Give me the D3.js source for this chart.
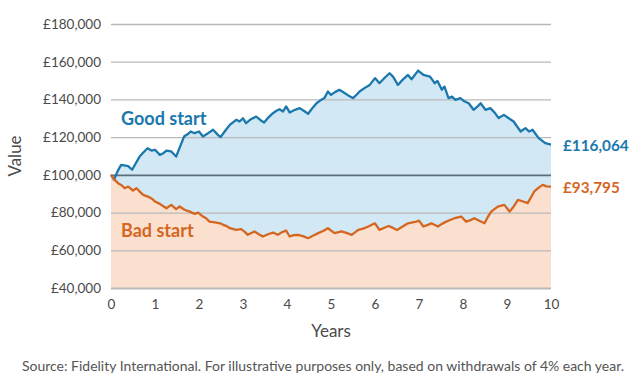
<!DOCTYPE html>
<html><head><meta charset="utf-8">
<script src="https://cdn.jsdelivr.net/npm/d3@7"></script>
<style>body{margin:0;background:#fff}svg{display:block}text{font-family:Lato, "Noto Sans", sans-serif}</style>
</head><body><svg id="c" width="634" height="388"></svg>
<script>
const goodYears = [0,0.07,0.15,0.23,0.30,0.39,0.48,0.56,0.65,0.74,0.83,0.92,1.00,1.11,1.19,1.26,1.37,1.48,1.57,1.66,1.74,1.81,1.90,2.00,2.09,2.20,2.32,2.43,2.49,2.60,2.70,2.78,2.85,2.92,3.00,3.07,3.18,3.30,3.40,3.48,3.58,3.68,3.76,3.83,3.91,3.98,4.06,4.18,4.29,4.38,4.48,4.58,4.67,4.76,4.85,4.93,5.00,5.10,5.19,5.30,5.40,5.50,5.58,5.65,5.76,5.88,6.00,6.10,6.22,6.33,6.41,6.52,6.63,6.75,6.83,6.98,7.10,7.25,7.36,7.42,7.52,7.58,7.67,7.75,7.83,7.94,8.03,8.13,8.24,8.32,8.40,8.51,8.62,8.72,8.81,8.93,9.04,9.15,9.31,9.42,9.50,9.58,9.72,9.87,10];
const goodValues = [100000,97500,102000,105300,105000,104600,102700,106000,109700,112000,114100,112900,113300,110600,111500,112900,112400,109700,115000,120300,121500,123000,122100,123000,120300,122000,123900,121200,120000,123500,126500,128000,129200,128300,130000,127400,129500,130900,129000,127800,130500,132700,134000,134800,133600,136300,133100,134500,135400,134000,132400,135500,138000,139500,140700,144200,142400,144000,145100,143500,142000,140700,142500,144200,146000,147700,151300,148600,151500,153900,152100,147700,150500,153000,150700,155300,153000,152100,148600,149800,145100,146800,140700,141500,139800,140700,139000,138000,134500,136000,138000,134500,135400,133000,130100,131800,130000,128300,123000,124800,123000,123900,119500,116800,116064];
const badYears = [0,0.08,0.16,0.24,0.31,0.39,0.50,0.58,0.66,0.73,0.84,0.92,1.00,1.11,1.18,1.26,1.37,1.48,1.56,1.67,1.79,1.90,1.98,2.09,2.16,2.24,2.36,2.48,2.55,2.63,2.70,2.85,2.96,3.04,3.11,3.26,3.36,3.45,3.57,3.68,3.79,3.88,3.98,4.06,4.15,4.25,4.36,4.48,4.60,4.71,4.82,4.93,5.08,5.24,5.35,5.47,5.62,5.73,5.85,6.00,6.10,6.20,6.31,6.40,6.50,6.62,6.75,6.94,7.00,7.10,7.20,7.28,7.43,7.52,7.62,7.72,7.81,7.96,8.07,8.17,8.26,8.38,8.49,8.56,8.64,8.79,8.94,9.06,9.16,9.25,9.35,9.47,9.62,9.72,9.81,9.90,10];
const badValues = [100000,97500,95600,94500,92900,93800,91700,92900,91000,89400,88500,87500,85900,84600,83500,82300,84100,81800,83200,81500,80500,79300,80000,77900,77000,75200,74800,74300,73500,72800,71700,70800,71200,69800,68200,70000,68500,67300,68500,69400,68200,69500,70500,67300,68000,68200,67500,66400,67800,69100,70200,71700,69100,70000,69200,68200,70800,71500,72600,74300,70800,71800,72900,72000,70800,72500,74300,75200,75700,72600,73500,74300,72600,74000,75200,76200,77000,77900,75200,76000,77000,75500,74300,77500,80500,83200,84100,80500,83500,86700,86000,85000,91200,93200,94700,93900,93795];
const yTicks = [40000,60000,80000,100000,120000,140000,160000,180000];
const xTicks = [0,1,2,3,4,5,6,7,8,9,10];
const seriesNames = ["Good start","Bad start"];
const endLabels = ["£116,064","£93,795"];
const xTitle = "Years", yTitle = "Value";
const source = "Source: Fidelity International. For illustrative purposes only, based on withdrawals of 4% each year.";

const svg = d3.select("#c");
const L=111, R=551, T=24, B=288;
const x = d3.scaleLinear().domain([0,10]).range([L,R]);
const y = d3.scaleLinear().domain([40000,180000]).range([B,T]);
const BLUE="#1b78ad", ORANGE="#d4661f";

const good = goodYears.map((t,i)=>[t,goodValues[i]]);
const bad = badYears.map((t,i)=>[t,badValues[i]]);
const area = d3.area().x(d=>x(d[0])).y0(y(40000)).y1(d=>y(d[1]));
const line = d3.line().x(d=>x(d[0])).y(d=>y(d[1]));

svg.append("path").attr("d",area(good)).attr("fill","#d2e8f5");
svg.append("path").attr("d",area(bad)).attr("fill","#fbe0cf");

const grid = svg.append("g").attr("transform",`translate(${L},0)`)
  .call(d3.axisLeft(y).tickValues(yTicks).tickSize(-(R-L)).tickFormat(""));
grid.select(".domain").remove();
grid.selectAll("line").attr("stroke",d=>d===100000?"#5d6e79":"#b9b9b9")
  .attr("stroke-width",d=>d===40000?2:(d===100000?1.6:1.3));

const ya = svg.append("g").attr("transform",`translate(${L},0)`)
  .call(d3.axisLeft(y).tickValues(yTicks).tickSize(0).tickPadding(10).tickFormat(d=>"£"+d3.format(",")(d)));
ya.select(".domain").remove();
ya.selectAll("text").attr("font-size",13.5).attr("fill","#4a4a4a").attr("font-family","Lato");

const xa = svg.append("g").attr("transform",`translate(0,${B})`)
  .call(d3.axisBottom(x).tickValues(xTicks).tickSize(0).tickPadding(11));
xa.select(".domain").remove();
xa.selectAll("text").attr("font-size",13.5).attr("fill","#4a4a4a").attr("font-family","Lato");

svg.append("path").attr("d",line(good)).attr("fill","none").attr("stroke",BLUE).attr("stroke-width",2.3).attr("stroke-linejoin","round");
svg.append("path").attr("d",line(bad)).attr("fill","none").attr("stroke",ORANGE).attr("stroke-width",2.3).attr("stroke-linejoin","round");

svg.append("text").attr("x",121).attr("y",125).attr("font-size",18).attr("font-weight","bold").attr("fill",BLUE).text(seriesNames[0]);
svg.append("text").attr("x",121).attr("y",237).attr("font-size",18).attr("font-weight","bold").attr("fill",ORANGE).text(seriesNames[1]);

svg.append("text").attr("x",563).attr("y",y(goodValues[goodValues.length-1])+6).attr("font-size",15.3).attr("font-weight","bold").attr("fill",BLUE).text(endLabels[0]);
svg.append("text").attr("x",563).attr("y",y(badValues[badValues.length-1])+6).attr("font-size",15.3).attr("font-weight","bold").attr("fill",ORANGE).text(endLabels[1]);

svg.append("text").attr("x",(L+R)/2).attr("y",337).attr("text-anchor","middle").attr("font-size",17).attr("fill","#4a4a4a").text(xTitle);
svg.append("text").attr("transform","translate(21,156) rotate(-90)").attr("text-anchor","middle").attr("font-size",17).attr("fill","#4a4a4a").text(yTitle);
svg.append("text").attr("x",22).attr("y",371).attr("font-size",13.5).attr("fill","#555").attr("textLength",602).attr("lengthAdjust","spacingAndGlyphs").text(source);
</script></body></html>
